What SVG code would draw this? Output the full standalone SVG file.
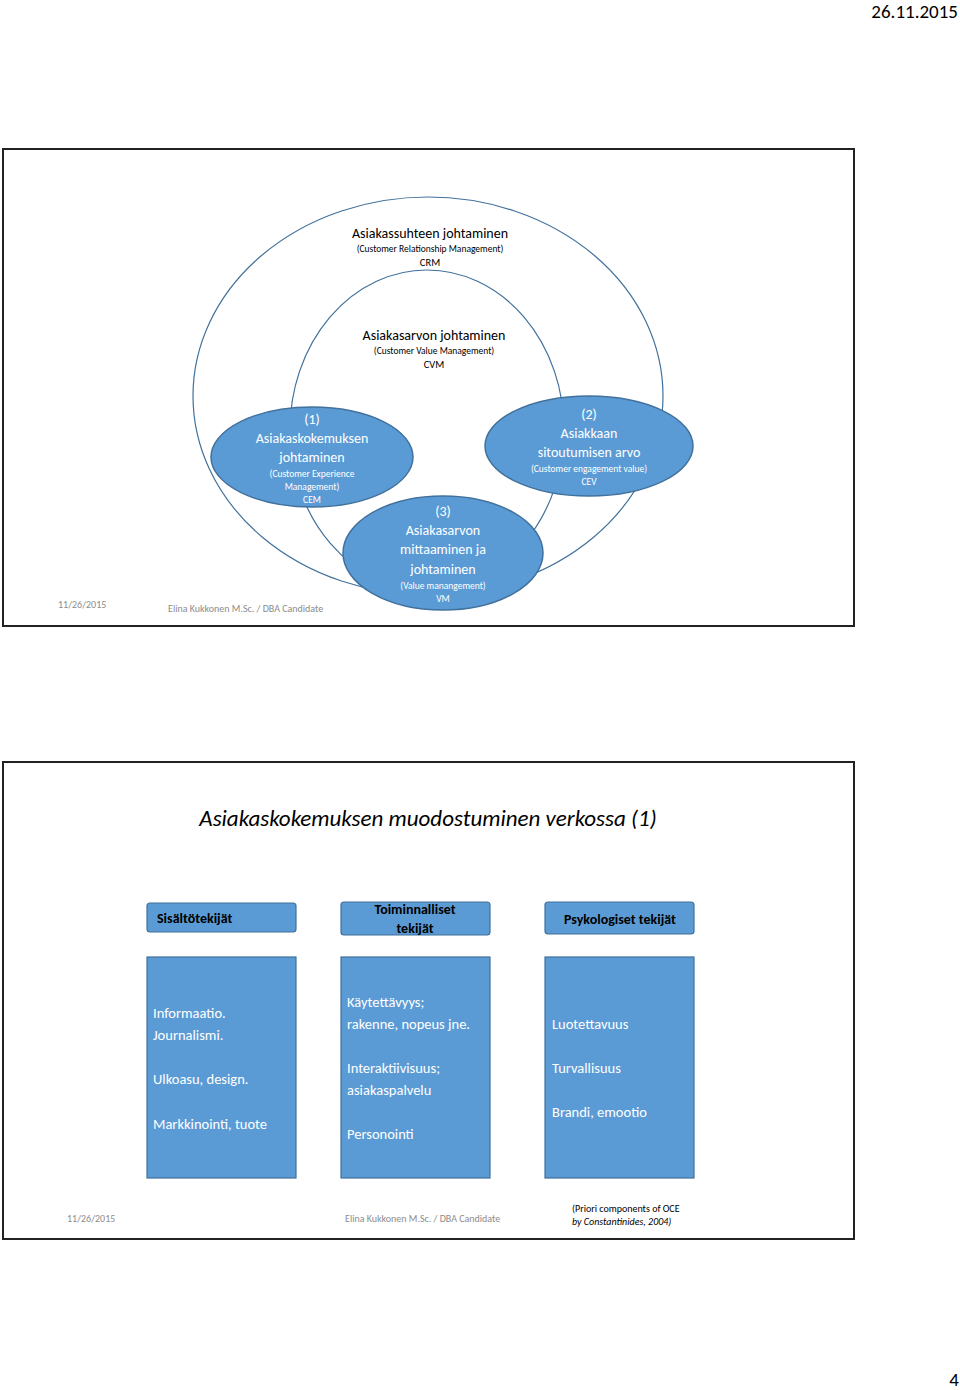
<svg xmlns="http://www.w3.org/2000/svg" width="960" height="1390" viewBox="0 0 960 1390">
<style>
text{font-family:Calibri,Carlito,"Liberation Sans",sans-serif}
.frame{fill:#fff;stroke:#222;stroke-width:2}
.ring{fill:none;stroke:#41719c;stroke-width:1.2}
.blob{fill:#5b9bd5;stroke:#41719c;stroke-width:1.5}
.box{fill:#5b9bd5;stroke:#41719c;stroke-width:1.2}
.w{fill:#fff;text-anchor:middle}
.k{fill:#000;text-anchor:middle}
.foot{fill:#8c8c8c;font-size:10px}
.lt{fill:#fff;font-size:14.5px}
.hd{fill:#000;font-weight:bold;font-size:14px;text-anchor:middle}
</style>
<text x="958" y="18" font-size="19" text-anchor="end" fill="#000">26.11.2015</text>
<rect class="frame" x="3" y="149" width="851" height="477"/>
<g id="crm"><ellipse class="ring" cx="428" cy="396" rx="235" ry="199"/>
<text class="k" x="430" y="238" font-size="14">Asiakassuhteen johtaminen</text>
<text class="k" x="430" y="252" font-size="9.5">(Customer Relationship Management)</text>
<text class="k" x="430" y="266" font-size="10.5">CRM</text></g>
<g id="cvm"><ellipse class="ring" cx="427" cy="430" rx="137" ry="160"/>
<text class="k" x="434" y="340" font-size="14">Asiakasarvon johtaminen</text>
<text class="k" x="434" y="354" font-size="9.5">(Customer Value Management)</text>
<text class="k" x="434" y="368" font-size="10.5">CVM</text></g>
<g id="cem"><ellipse class="blob" cx="312" cy="457" rx="101" ry="50"/>
<text class="w" x="312" y="424" font-size="14">(1)</text>
<text class="w" x="312" y="443" font-size="14">Asiakaskokemuksen</text>
<text class="w" x="312" y="462" font-size="14">johtaminen</text>
<text class="w" x="312" y="477" font-size="9.5">(Customer Experience</text>
<text class="w" x="312" y="490" font-size="9.5">Management)</text>
<text class="w" x="312" y="503" font-size="9.5">CEM</text></g>
<g id="cev"><ellipse class="blob" cx="589" cy="446" rx="104" ry="50"/>
<text class="w" x="589" y="419" font-size="14">(2)</text>
<text class="w" x="589" y="438" font-size="14">Asiakkaan</text>
<text class="w" x="589" y="457" font-size="14">sitoutumisen arvo</text>
<text class="w" x="589" y="472" font-size="9.5">(Customer engagement value)</text>
<text class="w" x="589" y="485" font-size="9.5">CEV</text></g>
<g id="vm"><ellipse class="blob" cx="443" cy="553" rx="100" ry="57"/>
<text class="w" x="443" y="516" font-size="14">(3)</text>
<text class="w" x="443" y="535" font-size="14">Asiakasarvon</text>
<text class="w" x="443" y="554" font-size="14">mittaaminen ja</text>
<text class="w" x="443" y="574" font-size="14">johtaminen</text>
<text class="w" x="443" y="589" font-size="9.5">(Value manangement)</text>
<text class="w" x="443" y="602" font-size="9.5">VM</text></g>
<text class="foot" x="58" y="608">11/26/2015</text>
<text class="foot" x="168" y="612">Elina Kukkonen M.Sc. / DBA Candidate</text>

<rect class="frame" x="3" y="762" width="851" height="477"/>
<text x="428" y="826" font-size="23" font-style="italic" text-anchor="middle" fill="#000">Asiakaskokemuksen muodostuminen verkossa (1)</text>
<g id="h1"><rect class="box" x="147" y="903" width="149" height="29" rx="3"/><text class="hd" x="157" y="923" text-anchor="start" style="text-anchor:start">Sisältötekijät</text></g>
<g id="h2"><rect class="box" x="341" y="902" width="149" height="33" rx="3"/><text class="hd" x="415" y="914">Toiminnalliset</text><text class="hd" x="415" y="933">tekijät</text></g>
<g id="h3"><rect class="box" x="545" y="902" width="149" height="32" rx="3"/><text class="hd" x="620" y="924">Psykologiset tekijät</text></g>
<g id="b1"><rect class="box" x="147" y="957" width="149" height="221"/>
<text class="lt" x="153" y="1018">Informaatio.</text><text class="lt" x="153" y="1040">Journalismi.</text>
<text class="lt" x="153" y="1084">Ulkoasu, design.</text><text class="lt" x="153" y="1129">Markkinointi, tuote</text></g>
<g id="b2"><rect class="box" x="341" y="957" width="149" height="221"/>
<text class="lt" x="347" y="1007">Käytettävyys;</text><text class="lt" x="347" y="1029">rakenne, nopeus jne.</text>
<text class="lt" x="347" y="1073">Interaktiivisuus;</text><text class="lt" x="347" y="1095">asiakaspalvelu</text>
<text class="lt" x="347" y="1139">Personointi</text></g>
<g id="b3"><rect class="box" x="545" y="957" width="149" height="221"/>
<text class="lt" x="552" y="1029">Luotettavuus</text><text class="lt" x="552" y="1073">Turvallisuus</text><text class="lt" x="552" y="1117">Brandi, emootio</text></g>
<text class="foot" x="67" y="1222">11/26/2015</text>
<text class="foot" x="345" y="1222">Elina Kukkonen M.Sc. / DBA Candidate</text>
<text x="572" y="1212" font-size="10" fill="#000">(Priori components of OCE</text>
<text x="572" y="1225" font-size="10" font-style="italic" fill="#000">by Constantinides, 2004)</text>
<text x="959" y="1386" font-size="19" text-anchor="end" fill="#000">4</text>
</svg>
